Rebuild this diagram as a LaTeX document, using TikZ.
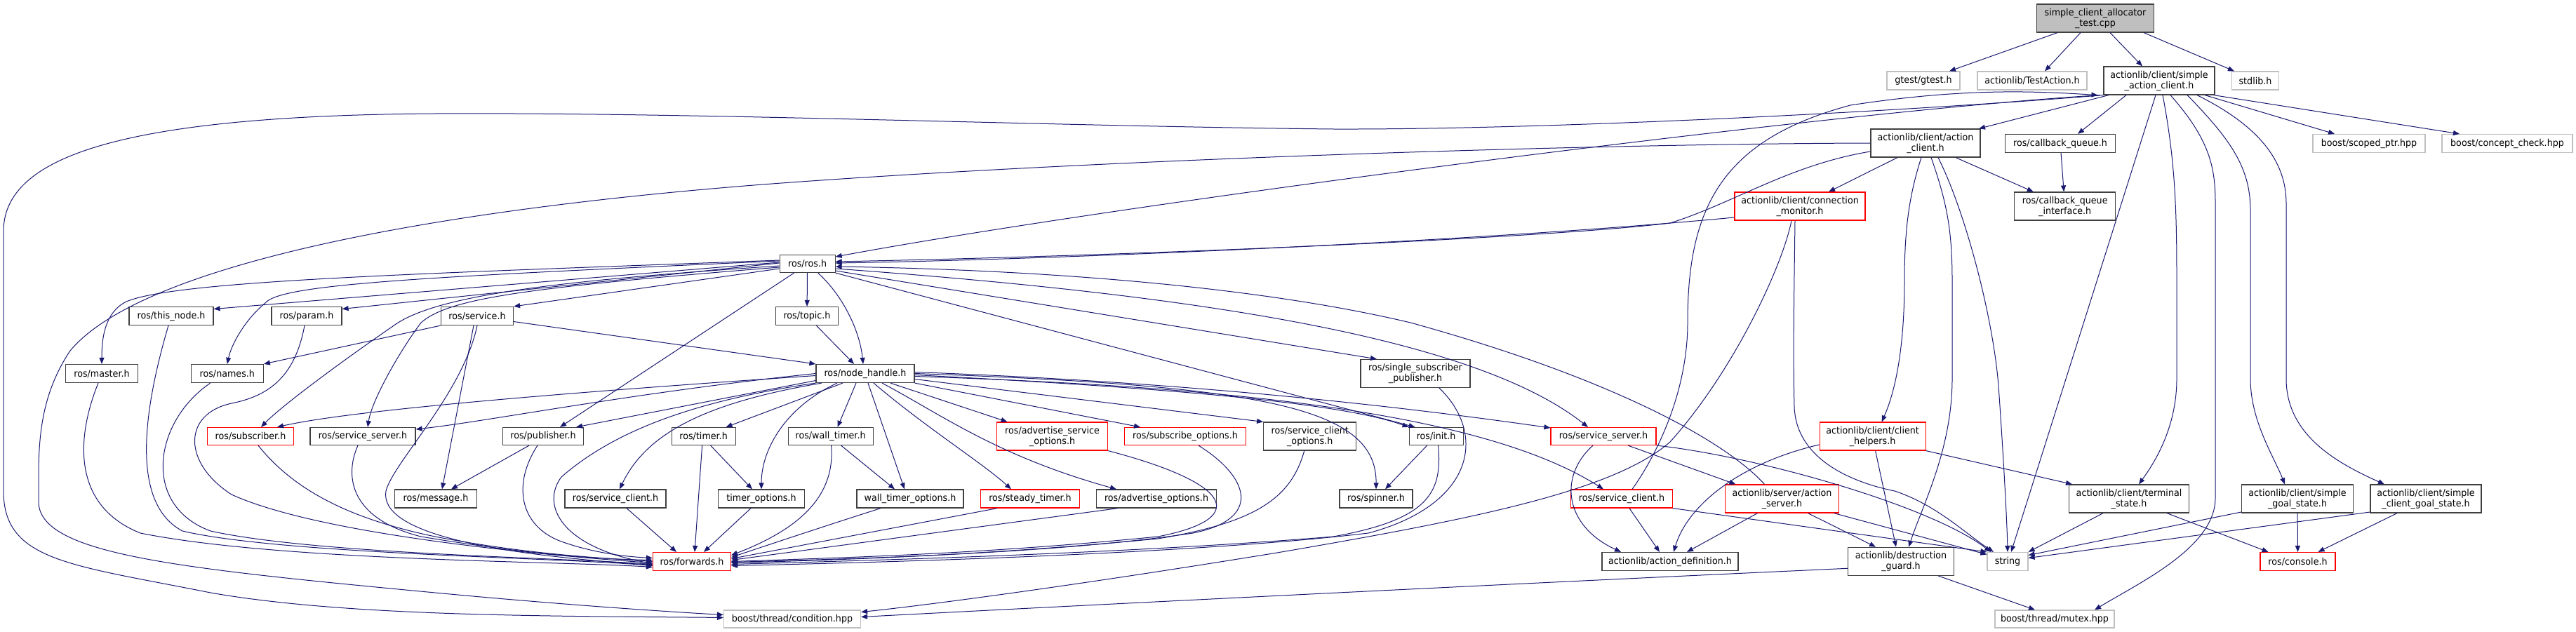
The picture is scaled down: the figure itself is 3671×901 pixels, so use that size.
\documentclass[tikz,border=0pt]{standalone}
\usepackage{fontspec}
\setmainfont{DejaVu Sans}[FakeStretch=0.94]
\usetikzlibrary{arrows.meta}
\definecolor{edgec}{HTML}{191970}
\definecolor{nodeb}{HTML}{404040}
\definecolor{redb}{HTML}{FF0000}
\definecolor{grayb}{HTML}{BFBFBF}
\definecolor{rootf}{HTML}{BFBFBF}
\newcommand\nodefont{\fontsize{13.5}{15}\selectfont}
\begin{document}
\begin{tikzpicture}[x=1pt,y=-1pt,
 bx/.style={draw=nodeb, line width=1.2pt, fill=white, inner sep=0pt, align=center, font=\nodefont},
 rd/.style={bx, draw=redb},
 gy/.style={bx, draw=grayb},
 rt/.style={bx, fill=rootf},
 sz/.style 2 args={minimum width=#1pt, minimum height=#2pt},
 ed/.style={draw=edgec, line width=1pt, -{Triangle[length=9pt,width=7pt]}}]
\useasboundingbox (0,0) rectangle (3671,901);
% ---------------- nodes
\node[rt, sz={167}{40}] (root) at (2986,26) {simple\_client\_allocator\\\_test.cpp};
\node[gy, sz={104}{26}] (gtest) at (2741,115) {gtest/gtest.h};
\node[gy, sz={156}{26}] (testact) at (2896,115) {actionlib/TestAction.h};
\node[bx, sz={158}{40}] (sac) at (3077,115) {actionlib/client/simple\\\_action\_client.h};
\node[gy, sz={67}{26}] (stdlib) at (3214,115) {stdlib.h};
\node[bx, sz={156}{40}] (ac) at (2744,204) {actionlib/client/action\\\_client.h};
\node[bx, sz={157}{26}] (cbq) at (2936,204.5) {ros/callback\_queue.h};
\node[gy, sz={160}{26}] (scoped) at (3376,204.5) {boost/scoped\_ptr.hpp};
\node[gy, sz={186}{26}] (concept) at (3573,204.5) {boost/concept\_check.hpp};
\node[rd, sz={186}{40}] (cm) at (2565,294) {actionlib/client/connection\\\_monitor.h};
\node[bx, sz={144}{40}] (cbqi) at (2942.7,294) {ros/callback\_queue\\\_interface.h};
\node[bx, sz={79}{25}] (ros) at (1150.6,376) {ros/ros.h};
\node[bx, sz={120}{26}] (thisnode) at (244,450.5) {ros/this\_node.h};
\node[bx, sz={100}{26}] (param) at (437,450.5) {ros/param.h};
\node[bx, sz={103}{26}] (service) at (680,450.5) {ros/service.h};
\node[bx, sz={89}{26}] (topic) at (1150,450.5) {ros/topic.h};
\node[bx, sz={103}{26}] (master) at (145,532.5) {ros/master.h};
\node[bx, sz={103}{26}] (names) at (323.8,532.5) {ros/names.h};
\node[bx, sz={140}{26}] (nh) at (1233,532.5) {ros/node\_handle.h};
\node[bx, sz={156}{40}] (ssp) at (2017,532.5) {ros/single\_subscriber\\\_publisher.h};
\node[rd, sz={123}{25}] (subscriber) at (357,622) {ros/subscriber.h};
\node[bx, sz={150}{25}] (ssblack) at (517,622) {ros/service\_server.h};
\node[bx, sz={115}{25}] (publisher) at (774,622) {ros/publisher.h};
\node[bx, sz={91}{25}] (timer) at (1002.6,622) {ros/timer.h};
\node[bx, sz={121}{25}] (walltimer) at (1183.6,622) {ros/wall\_timer.h};
\node[rd, sz={158}{40}] (aso) at (1499.5,622) {ros/advertise\_service\\\_options.h};
\node[rd, sz={173}{25}] (subopt) at (1689,622) {ros/subscribe\_options.h};
\node[bx, sz={132}{40}] (sco) at (1866.7,622) {ros/service\_client\\\_options.h};
\node[bx, sz={77}{25}] (init) at (2046.6,622) {ros/init.h};
\node[rd, sz={150}{25}] (ssred) at (2285,622) {ros/service\_server.h};
\node[rd, sz={151}{40}] (helpers) at (2668.6,622) {actionlib/client/client\\\_helpers.h};
\node[bx, sz={117}{26}] (message) at (621,711) {ros/message.h};
\node[bx, sz={144}{26}] (scblack) at (877,711) {ros/service\_client.h};
\node[bx, sz={123}{26}] (timeropt) at (1085,711) {timer\_options.h};
\node[bx, sz={152}{26}] (wto) at (1297,711) {wall\_timer\_options.h};
\node[rd, sz={141}{26}] (steady) at (1468,711) {ros/steady\_timer.h};
\node[bx, sz={171}{26}] (advopt) at (1648,711) {ros/advertise\_options.h};
\node[bx, sz={104}{26}] (spinner) at (1961,711) {ros/spinner.h};
\node[rd, sz={145}{26}] (scred) at (2311,711) {ros/service\_client.h};
\node[rd, sz={162}{40}] (actserver) at (2539.5,711) {actionlib/server/action\\\_server.h};
\node[bx, sz={171}{40}] (terminal) at (3034,711) {actionlib/client/terminal\\\_state.h};
\node[bx, sz={159}{40}] (sgs) at (3274,711) {actionlib/client/simple\\\_goal\_state.h};
\node[bx, sz={158}{40}] (scgs) at (3457,711) {actionlib/client/simple\\\_client\_goal\_state.h};
\node[rd, sz={111}{26}] (forwards) at (986,800.5) {ros/forwards.h};
\node[bx, sz={194}{26}] (actdef) at (2380,800.5) {actionlib/action\_definition.h};
\node[bx, sz={151}{40}] (destguard) at (2709,800.3) {actionlib/destruction\\\_guard.h};
\node[gy, sz={58}{26}] (string) at (2861,800.5) {string};
\node[rd, sz={107}{26}] (console) at (3274.5,800.5) {ros/console.h};
\node[gy, sz={195}{25}] (condition) at (1129,882.5) {boost/thread/condition.hpp};
\node[gy, sz={170}{25}] (mutex) at (2928,882.5) {boost/thread/mutex.hpp};
% ---------------- edges: root
\draw[ed] ([xshift=-54]root.south) -- ([xshift=37]gtest.north);
\draw[ed] ([xshift=-21]root.south) -- ([xshift=18]testact.north);
\draw[ed] ([xshift=21]root.south) -- ([xshift=-24]sac.north);
\draw[ed] ([xshift=-15]root.south east) -- ([xshift=-30]stdlib.north);
% simple_action_client
\draw[ed] ([xshift=-72]sac.south) -- ([xshift=76]ac.north);
\draw[ed] ([xshift=-47]sac.south) -- ([xshift=25]cbq.north);
\draw[ed] ([xshift=65]sac.south) -- ([xshift=-49]scoped.north);
\draw[ed] ([xshift=-2]sac.south east) -- ([xshift=-68]concept.north);
\draw[ed] ([xshift=-5]sac.south) -- ([xshift=5]string.north);
\draw[ed] ([xshift=5]sac.south) .. controls (3100,230) and (3102,300) .. (3102,400) -- (3102,540) .. controls (3102,610) and (3070,660) .. ([xshift=14]terminal.north);
\draw[ed] ([xshift=16]sac.south) .. controls (3150,200) and (3157,240) .. (3157,290) -- (3157,710) .. controls (3157,780) and (3050,830) .. ([xshift=57]mutex.north);
\draw[ed] ([xshift=40]sac.south) .. controls (3180,200) and (3207,240) .. (3207,300) -- (3207,540) .. controls (3207,600) and (3240,650) .. ([xshift=-18]sgs.north);
\draw[ed] ([xshift=54]sac.south) .. controls (3220,180) and (3258,230) .. (3258,290) -- (3258,540) .. controls (3258,620) and (3330,660) .. ([xshift=-59]scgs.north);
\draw[ed] ([xshift=-5]sac.south west) .. controls (2600,160) and (1600,290) .. ([yshift=10]ros.east);
\draw[ed] (sac.south west) .. controls (2700,160) and (2200,185) .. (1900,184) .. controls (1500,180) and (1000,160) .. (620,162) .. controls (150,165) and (5,230) .. (5,330) -- (5,700) .. controls (5,800) and (100,805) .. (300,845) .. controls (500,880) and (800,878) .. ([yshift=2]condition.west);
% action_client
\draw[ed] (ac.west) .. controls (2300,205) and (1600,225) .. (1100,262) .. controls (600,300) and (200,380) .. (100,500) .. controls (60,560) and (55,620) .. (55,680) -- (55,715) .. controls (55,790) and (250,810) .. (620,845) .. controls (800,862) and (950,872) .. ([yshift=6]condition.west);
\draw[ed] ([yshift=-12]ac.west) .. controls (2550,235) and (2470,290) .. (2380,318) .. controls (2200,340) and (1600,365) .. ([yshift=3]ros.east);
\draw[ed] ([xshift=-40]ac.south) -- ([xshift=41]cm.north);
\draw[ed] ([xshift=43]ac.south) -- ([xshift=-45]cbqi.north);
\draw[ed] ([xshift=-6]ac.south) .. controls (2720,280) and (2714,330) .. (2714,400) .. controls (2714,500) and (2700,560) .. ([xshift=13]helpers.north);
\draw[ed] ([xshift=8]ac.south) .. controls (2775,290) and (2782,330) .. (2782,400) -- (2782,540) .. controls (2782,640) and (2740,720) .. ([xshift=11]destguard.north);
\draw[ed] ([xshift=18]ac.south) .. controls (2800,300) and (2840,450) .. (2848,550) .. controls (2855,650) and (2860,740) .. (string.north);
\draw[ed] (cbq) -- (cbqi);
% connection_monitor
\draw[ed] ([yshift=-16]cm.west) .. controls (2100,345) and (1500,370) .. ([yshift=1]ros.east);
\draw[ed] ([xshift=-7]cm.south) .. controls (2557,400) and (2555,500) .. (2557,580) .. controls (2560,660) and (2650,690) .. (2700,700) .. controls (2760,720) and (2800,760) .. ([xshift=-20]string.north);
\draw[ed] ([xshift=-12]cm.south) .. controls (2540,380) and (2470,530) .. (2380,630) .. controls (2300,700) and (2100,740) .. (1820,788) .. controls (1500,840) and (1300,865) .. ([yshift=10]condition.east);
% action_server
\draw[ed] ([xshift=-25]actserver.north) .. controls (2460,630) and (2300,540) .. (2010,460) .. controls (1800,410) and (1500,385) .. ([yshift=-4]ros.east);
\draw[ed] ([xshift=-35]actserver.south) -- ([xshift=24]actdef.north);
\draw[ed] ([xshift=37]actserver.south) -- ([xshift=-36]destguard.north);
\draw[ed] ([xshift=74]actserver.south) -- ([yshift=10]string.west);
% ros.h outgoing
\draw[ed] ([yshift=2]ros.west) -- ([yshift=10]thisnode.east);
\draw[ed] ([yshift=1]ros.west) -- ([yshift=10]param.east);
\draw[ed] ([yshift=5]ros.west) .. controls (600,390) and (250,400) .. (180,430) .. controls (150,445) and (145,480) .. (master.north);
\draw[ed] ([yshift=4]ros.west) .. controls (600,395) and (400,405) .. (378,432) .. controls (350,455) and (330,490) .. (names.north);
\draw[ed] ([yshift=-7]ros.west) -- (service.north east);
\draw[ed] (ros) -- (topic);
\draw[ed] ([xshift=15]ros.south) .. controls (1200,420) and (1225,470) .. ([xshift=-3]nh.north);
\draw[ed] ([xshift=-19]ros.south) -- ([xshift=24]publisher.north);
\draw[ed] ([yshift=-3]ros.west) .. controls (800,400) and (620,420) .. (560,465) .. controls (480,520) and (400,580) .. ([xshift=15]subscriber.north);
\draw[ed] ([yshift=-5]ros.west) .. controls (750,410) and (640,425) .. (600,460) .. controls (570,500) and (530,570) .. ([xshift=7]ssblack.north);
\draw[ed] ([yshift=-10]ros.east) -- ([xshift=-55]ssp.north);
\draw[ed] (ros.south east) -- ([xshift=-30]init.north);
\draw[ed] ([yshift=-7]ros.east) .. controls (1700,420) and (2100,480) .. ([xshift=-22]ssred.north);
% topic, service
\draw[ed] (topic) -- ([xshift=-16]nh.north);
\draw[ed] ([yshift=-8]service.east) -- (nh.north west);
\draw[ed] (service.south west) -- (names.north east);
\draw[ed] ([xshift=-5]service.south) -- ([xshift=9]message.north);
\draw[ed] (service.south) .. controls (660,560) and (560,660) .. (550,700) .. controls (540,760) and (700,790) .. ([yshift=-5]forwards.west);
% node_handle outgoing
\draw[ed] (nh.south west) .. controls (1000,570) and (880,610) .. (800,680) .. controls (770,720) and (800,780) .. ([yshift=-3]forwards.west);
\draw[ed] ([yshift=-10]nh.west) -- ([xshift=47]publisher.north);
\draw[ed] ([yshift=-3]nh.west) .. controls (800,560) and (500,585) .. ([xshift=38]subscriber.north);
\draw[ed] ([yshift=0]nh.west) .. controls (900,560) and (700,600) .. ([yshift=10]ssblack.east);
\draw[ed] ([xshift=-32]nh.south) -- ([xshift=32]timer.north);
\draw[ed] ([xshift=-40]nh.south) .. controls (1120,580) and (1085,640) .. (timeropt.north);
\draw[ed] ([xshift=-62]nh.south) .. controls (1000,575) and (920,620) .. ([xshift=6]scblack.north);
\draw[ed] ([xshift=-13]nh.south) -- ([xshift=10]walltimer.north);
\draw[ed] ([xshift=4]nh.south) -- ([xshift=-8]wto.north);
\draw[ed] ([xshift=12]nh.south) .. controls (1320,610) and (1400,660) .. ([xshift=-27]steady.north);
\draw[ed] ([xshift=24]nh.south) .. controls (1340,590) and (1420,650) .. ([xshift=-57]advopt.north);
\draw[ed] ([xshift=36]nh.south) -- ([xshift=-64]aso.north);
\draw[ed] (nh.south east) -- ([xshift=-64]subopt.north);
\draw[ed] ([yshift=-8]nh.east) -- (sco.north west);
\draw[ed] ([yshift=-2]nh.east) .. controls (1600,550) and (1900,570) .. (init.north west);
\draw[ed] (nh.east) .. controls (1800,550) and (1962,580) .. (spinner.north);
\draw[ed] ([yshift=2]nh.east) .. controls (1700,545) and (2000,580) .. ([yshift=12]ssred.west);
\draw[ed] ([yshift=-4]nh.east) .. controls (1700,550) and (2100,580) .. ([xshift=-26]scred.north);
% second level to forwards etc.
\draw[ed] ([xshift=-20]publisher.south) -- ([xshift=22]message.north);
\draw[ed] ([xshift=-8]publisher.south) .. controls (730,690) and (740,750) .. (800,772) .. controls (850,790) and (900,794) .. ([yshift=5]forwards.west);
\draw[ed] ([xshift=10]timer.south) -- ([xshift=-13]timeropt.north);
\draw[ed] ([xshift=-2]timer.south) -- ([xshift=4]forwards.north);
\draw[ed] ([xshift=16]scblack.south) -- ([xshift=-22]forwards.north);
\draw[ed] ([xshift=-15]timeropt.south) -- ([xshift=17]forwards.north);
\draw[ed] ([xshift=15]walltimer.south) -- ([xshift=-22]wto.north);
\draw[ed] ([xshift=1]walltimer.south) .. controls (1190,700) and (1150,750) .. ([yshift=9]forwards.east);
\draw[ed] ([xshift=-42]wto.south) .. controls (1200,742) and (1100,775) .. ([yshift=6]forwards.east);
\draw[ed] ([xshift=-47]steady.south) -- ([yshift=4]forwards.east);
\draw[ed] ([xshift=-55]advopt.south) -- ([yshift=2]forwards.east);
\draw[ed] (aso.south east) .. controls (1760,690) and (1780,740) .. (1650,765) .. controls (1400,790) and (1200,795) .. ([yshift=0]forwards.east);
\draw[ed] ([xshift=19]subopt.south) .. controls (1780,680) and (1800,740) .. (1700,760) .. controls (1500,790) and (1200,797) .. ([yshift=-1]forwards.east);
\draw[ed] ([xshift=-8]sco.south) .. controls (1840,710) and (1790,745) .. (1650,768) .. controls (1400,792) and (1200,798) .. ([yshift=-2]forwards.east);
\draw[ed] ([xshift=3]init.south) .. controls (2055,700) and (2040,740) .. (1900,765) .. controls (1600,790) and (1200,800) .. ([yshift=-4]forwards.east);
\draw[ed] ([xshift=34]ssp.south) .. controls (2120,620) and (2100,720) .. (1950,760) .. controls (1700,790) and (1250,802) .. ([yshift=-6]forwards.east);
\draw[ed] ([xshift=-13]init.south) -- ([xshift=13]spinner.north);
% left column to forwards
\draw[ed] ([xshift=-5]master.south) .. controls (110,620) and (100,720) .. (200,760) .. controls (400,800) and (800,800) .. ([yshift=-8]forwards.west);
\draw[ed] ([xshift=-4]thisnode.south) .. controls (200,600) and (190,720) .. (260,757) .. controls (400,790) and (800,795) .. ([yshift=-6]forwards.west);
\draw[ed] ([xshift=-24]names.south) .. controls (220,600) and (200,720) .. (300,757) .. controls (450,790) and (800,795) .. ([yshift=-4]forwards.west);
\draw[ed] ([xshift=-3]param.south) .. controls (420,540) and (380,565) .. (330,575) .. controls (260,590) and (260,660) .. (330,705) .. controls (450,760) and (750,790) .. ([yshift=-2]forwards.west);
\draw[ed] ([xshift=11]subscriber.south) .. controls (420,700) and (500,740) .. (620,765) .. controls (750,790) and (850,795) .. ([yshift=0]forwards.west);
\draw[ed] ([xshift=-7]ssblack.south) .. controls (490,680) and (500,740) .. (600,765) .. controls (750,790) and (850,797) .. ([yshift=2]forwards.west);
% red service nodes
\draw[ed] ([xshift=15]scred.north) .. controls (2360,650) and (2405,560) .. (2405,460) .. controls (2405,300) and (2450,200) .. (2637,150) .. controls (2800,125) and (2900,130) .. ([xshift=-8]sac.south west);
\draw[ed] ([xshift=11]scred.south) -- ([xshift=-15]actdef.north);
\draw[ed] (scred.south east) -- (string.north west);
\draw[ed] ([xshift=-15]ssred.south) .. controls (2220,680) and (2230,750) .. ([xshift=-70]actdef.north);
\draw[ed] ([xshift=35]ssred.south) -- ([xshift=-66]actserver.north);
\draw[ed] (ssred.south east) .. controls (2500,650) and (2750,720) .. ([xshift=-24]string.north);
% client helpers
\draw[ed] ([yshift=-12]helpers.west) .. controls (2480,660) and (2405,720) .. ([xshift=5]actdef.north);
\draw[ed] ([xshift=4]helpers.south) -- ([xshift=-7]destguard.north);
\draw[ed] (helpers.south east) -- ([xshift=-81]terminal.north);
% destruction guard
\draw[ed] ([yshift=-10]destguard.west) .. controls (2200,830) and (1600,860) .. ([yshift=3]condition.east);
\draw[ed] ([xshift=53]destguard.south) -- ([xshift=-28]mutex.north);
% states
\draw[ed] ([xshift=-37]terminal.south) -- (string.north east);
\draw[ed] ([xshift=54]terminal.south) -- ([xshift=-42]console.north);
\draw[ed] ([yshift=-19]sgs.west) -- ([yshift=9]string.east);
\draw[ed] (sgs) -- (console);
\draw[ed] ([yshift=-19]scgs.west) -- ([yshift=5]string.east);
\draw[ed] ([xshift=-41]scgs.south) -- ([xshift=29]console.north);
\end{tikzpicture}
\end{document}
